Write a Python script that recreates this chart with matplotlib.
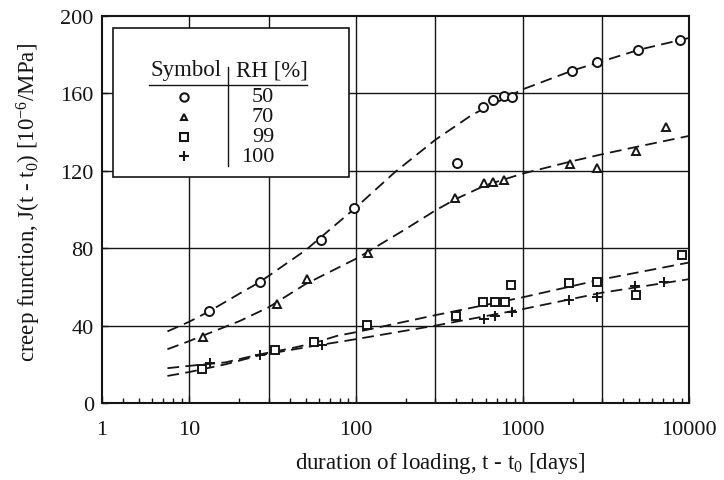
#!/usr/bin/env python3
"""Creep function J(t - t0) vs duration of loading for four relative humidities."""

import matplotlib

matplotlib.use("Agg")
import matplotlib.pyplot as plt
from matplotlib.patches import Rectangle
from matplotlib.ticker import FixedLocator, NullFormatter


# measured points, duration [days] and creep function [1e-6/MPa]
rh_labels = ["50", "70", "99", "100"]

t_rh50 = [13.2, 26.4, 61.6, 97, 405, 582, 668, 769, 859, 1972, 2793, 4930, 8830]
j_rh50 = [47.4, 62.4, 84.0, 100.5, 124.0, 153.0, 156.7, 158.8, 158.2, 171.6, 176.0, 182.5, 187.6]

t_rh70 = [12.1, 33.4, 50.7, 119, 395, 590, 668, 769, 1918, 2793, 4800, 7270]
j_rh70 = [34.3, 51.0, 63.9, 77.3, 106.0, 113.4, 114.0, 115.0, 123.7, 121.6, 130.0, 142.8]

t_rh99 = [12.0, 32.5, 55.8, 116, 400, 582, 687, 780, 847, 1892, 2793, 4800, 9080]
j_rh99 = [17.8, 27.3, 31.4, 40.5, 44.8, 52.0, 52.0, 52.0, 60.8, 61.9, 62.4, 55.7, 76.3]

t_rh100 = [13.4, 26.5, 62.5, 590, 687, 859, 1892, 2793, 4730, 7080]
j_rh100 = [20.8, 24.6, 30.2, 43.3, 44.8, 47.0, 53.0, 54.6, 60.3, 62.4]

# fitted curves (dashed)
fit_t_rh50 = [7.4, 10, 13.2, 20, 26.4, 50, 100, 170, 300, 500, 1000, 2000, 3000, 5000, 10000]
fit_j_rh50 = [37.0, 42.0, 47.4, 56.5, 62.4, 79.0, 101.0, 119.0, 136.0, 149.0, 162.0, 171.8, 176.5, 182.5, 188.6]

fit_t_rh70 = [7.4, 10, 20, 30, 50, 100, 120, 200, 300, 400, 600, 1000, 2000, 3000, 5000, 10000]
fit_j_rh70 = [27.8, 32.0, 42.3, 49.5, 61.5, 74.5, 78.5, 90.0, 99.5, 105.5, 112.5, 118.5, 125.0, 128.5, 132.6, 138.0]

fit_t_rh99 = [7.4, 10, 16.5, 26, 41, 56, 77, 100, 300, 1000, 3000, 10000]
fit_j_rh99 = [18.0, 19.2, 21.0, 25.0, 28.3, 31.0, 34.7, 36.6, 45.4, 54.6, 63.9, 72.6]

fit_t_rh100 = [7.4, 10, 16.5, 26, 41, 56, 77, 100, 300, 1000, 3000, 10000]
fit_j_rh100 = [14.0, 16.0, 20.0, 24.5, 27.5, 29.5, 31.4, 33.0, 40.0, 48.5, 57.0, 64.0]

# x axis of the original starts at ~3 days but the left end is labelled "1"
x_ticks = [3, 10, 100, 1000, 10000]
x_tick_labels = ["1", "10", "100", "1000", "10000"]
y_ticks = [0, 40, 80, 120, 160, 200]
grid_t = [10, 30, 100, 300, 1000, 3000]
grid_j = [40, 80, 120, 160]

INK = "#151515"

plt.rcParams["font.family"] = ["Liberation Serif", "DejaVu Serif"]
plt.rcParams["mathtext.fontset"] = "custom"
plt.rcParams["mathtext.rm"] = "Liberation Serif"
plt.rcParams["mathtext.it"] = "Liberation Serif:italic"
plt.rcParams["mathtext.bf"] = "Liberation Serif:bold"


def main() -> None:
    fig = plt.figure(figsize=(7.24, 4.81), dpi=100)
    ax = fig.add_axes([0.141, 0.160, 0.811, 0.805])
    ax.set_xscale("log")
    ax.set_xlim(3, 10000)
    ax.set_ylim(0, 200)

    for t in grid_t:
        ax.axvline(t, color=INK, lw=1.0, zorder=1)
    for j in grid_j:
        ax.axhline(j, color=INK, lw=1.0, zorder=1)

    dash = dict(color=INK, lw=1.3, dashes=(6.5, 3.5), zorder=2)
    ax.plot(fit_t_rh50, fit_j_rh50, **dash)
    ax.plot(fit_t_rh70, fit_j_rh70, **dash)
    ax.plot(fit_t_rh99, fit_j_rh99, **dash)
    ax.plot(fit_t_rh100, fit_j_rh100, **dash)

    mk = dict(ls="none", mfc="white", mec=INK, mew=1.4, color=INK, zorder=3)
    ax.plot(t_rh50, j_rh50, marker="o", ms=6.5, **mk)
    ax.plot(t_rh70, j_rh70, marker="^", ms=5.5, **mk)
    ax.plot(t_rh99, j_rh99, marker="s", ms=6.0, **mk)
    ax.plot(t_rh100, j_rh100, marker="+", ms=7.0, **mk)

    ax.xaxis.set_major_locator(FixedLocator(x_ticks))
    ax.set_xticklabels(x_tick_labels)
    ax.xaxis.set_minor_locator(
        FixedLocator([m * 10**d for d in range(0, 4) for m in range(2, 10) if 3 < m * 10**d < 10000])
    )
    ax.xaxis.set_minor_formatter(NullFormatter())
    ax.set_yticks(y_ticks)

    ax.tick_params(axis="x", which="major", direction="in", length=5, width=1.0,
                   labelsize=16, pad=12, colors=INK)
    ax.tick_params(axis="x", which="minor", direction="in", length=3.5, width=1.0, colors=INK)
    ax.tick_params(axis="y", which="major", direction="in", length=4, width=1.0,
                   labelsize=16, pad=6, colors=INK)
    for spine in ax.spines.values():
        spine.set_linewidth(1.5)
        spine.set_color(INK)

    ax.set_xlabel(r"duration of loading, t - t$_0$ [days]", fontsize=16.5, color=INK)
    ax.xaxis.set_label_coords(0.576, -0.122)
    ax.set_ylabel(r"creep function, J(t - t$_0$) [10$^{-6}$/MPa]", fontsize=16.5, color=INK)
    ax.yaxis.set_label_coords(-0.100, 0.52)

    # table-style legend in the upper left corner
    box = Rectangle((0.019, 0.585), 0.402, 0.384, transform=ax.transAxes,
                    facecolor="white", edgecolor=INK, lw=1.2, zorder=5)
    ax.add_patch(box)
    ax.text(0.143, 0.861, "Symbol", transform=ax.transAxes, ha="center", va="center",
            fontsize=16.5, color=INK, zorder=6)
    ax.text(0.289, 0.861, "RH [%]", transform=ax.transAxes, ha="center", va="center",
            fontsize=16.5, color=INK, zorder=6)
    ax.plot([0.080, 0.349], [0.822, 0.822], transform=ax.transAxes, color=INK, lw=1.0,
            zorder=6, clip_on=False)
    ax.plot([0.2146, 0.2146], [0.611, 0.869], transform=ax.transAxes, color=INK, lw=1.0,
            zorder=6, clip_on=False)
    row_y = [0.791, 0.740, 0.688, 0.637]
    markers = [("o", 6.0), ("^", 5.0), ("s", 5.5), ("+", 6.5)]
    for yy, (m, ms), lab in zip(row_y, markers, rh_labels):
        ax.plot([0.140], [yy], transform=ax.transAxes, marker=m, ms=ms, ls="none",
                mfc="white", mec=INK, mew=1.5, zorder=6, clip_on=False)
        ax.text(0.293, yy, lab, transform=ax.transAxes, ha="right", va="center",
                fontsize=16, color=INK, zorder=6)

    fig.savefig("out.png", dpi=100)
    plt.close(fig)


if __name__ == "__main__":
    main()
